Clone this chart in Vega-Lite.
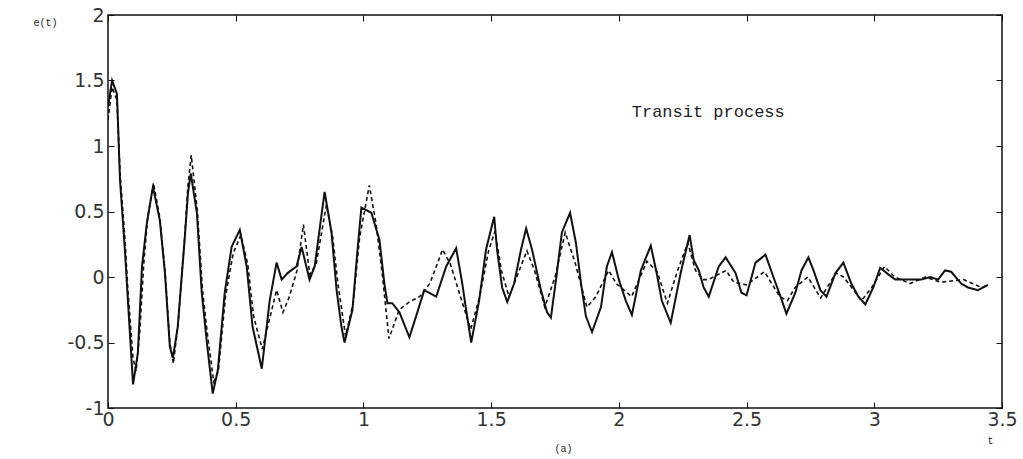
{
  "$schema": "https://vega.github.io/schema/vega-lite/v6.json",
  "autosize": "none",
  "width": 894,
  "height": 393,
  "padding": {"left": 108, "top": 15, "right": 21, "bottom": 51},
  "background": "white",
  "config": {
    "view": {"stroke": "#111", "strokeWidth": 1.5},
    "axis": {"grid": false, "labelFont": "DejaVu Sans", "labelFontSize": 19, "labelColor": "#333", "domain": false, "tickColor": "#111", "tickSize": -6, "tickWidth": 1, "labelOverlap": false, "labelFlush": false, "titleFont": "Liberation Mono", "titleFontWeight": "normal", "titleFontSize": 10, "titleColor": "#222", "labelExpr": "replace(format(datum.value, '~g'), '\u2212', '-')"}
  },
  "datasets": {
    "solid": [
      {"t":0.000,"e":1.30},{"t":0.016,"e":1.50},{"t":0.035,"e":1.40},{"t":0.047,"e":0.74},{"t":0.066,"e":0.21},{"t":0.078,"e":-0.18},{"t":0.098,"e":-0.82},{"t":0.117,"e":-0.58},{"t":0.133,"e":0.08},{"t":0.152,"e":0.41},{"t":0.176,"e":0.69},{"t":0.203,"e":0.43},{"t":0.223,"e":0.03},{"t":0.242,"e":-0.53},{"t":0.254,"e":-0.62},{"t":0.273,"e":-0.38},{"t":0.301,"e":0.31},{"t":0.313,"e":0.64},{"t":0.324,"e":0.79},{"t":0.348,"e":0.49},{"t":0.367,"e":-0.12},{"t":0.387,"e":-0.50},{"t":0.410,"e":-0.89},{"t":0.430,"e":-0.71},{"t":0.457,"e":-0.12},{"t":0.484,"e":0.23},{"t":0.516,"e":0.36},{"t":0.543,"e":0.08},{"t":0.566,"e":-0.38},{"t":0.602,"e":-0.70},{"t":0.633,"e":-0.18},{"t":0.660,"e":0.11},{"t":0.680,"e":-0.02},{"t":0.703,"e":0.03},{"t":0.738,"e":0.08},{"t":0.758,"e":0.23},{"t":0.789,"e":-0.02},{"t":0.809,"e":0.08},{"t":0.848,"e":0.65},{"t":0.875,"e":0.34},{"t":0.895,"e":-0.10},{"t":0.914,"e":-0.38},{"t":0.926,"e":-0.50},{"t":0.957,"e":-0.25},{"t":0.977,"e":0.21},{"t":0.992,"e":0.53},{"t":1.031,"e":0.49},{"t":1.063,"e":0.28},{"t":1.082,"e":-0.05},{"t":1.094,"e":-0.20},{"t":1.113,"e":-0.20},{"t":1.141,"e":-0.27},{"t":1.180,"e":-0.46},{"t":1.211,"e":-0.27},{"t":1.238,"e":-0.10},{"t":1.285,"e":-0.15},{"t":1.324,"e":0.08},{"t":1.363,"e":0.22},{"t":1.387,"e":-0.05},{"t":1.402,"e":-0.25},{"t":1.422,"e":-0.50},{"t":1.453,"e":-0.18},{"t":1.480,"e":0.21},{"t":1.512,"e":0.46},{"t":1.523,"e":0.21},{"t":1.543,"e":-0.08},{"t":1.563,"e":-0.19},{"t":1.590,"e":-0.05},{"t":1.617,"e":0.21},{"t":1.637,"e":0.37},{"t":1.660,"e":0.21},{"t":1.695,"e":-0.10},{"t":1.719,"e":-0.27},{"t":1.734,"e":-0.31},{"t":1.754,"e":-0.02},{"t":1.777,"e":0.34},{"t":1.809,"e":0.49},{"t":1.832,"e":0.26},{"t":1.852,"e":-0.05},{"t":1.871,"e":-0.30},{"t":1.895,"e":-0.42},{"t":1.930,"e":-0.23},{"t":1.953,"e":0.08},{"t":1.973,"e":0.19},{"t":2.000,"e":-0.02},{"t":2.027,"e":-0.18},{"t":2.051,"e":-0.29},{"t":2.086,"e":0.05},{"t":2.125,"e":0.24},{"t":2.148,"e":0.03},{"t":2.168,"e":-0.18},{"t":2.203,"e":-0.35},{"t":2.242,"e":0.03},{"t":2.277,"e":0.32},{"t":2.293,"e":0.13},{"t":2.313,"e":0.05},{"t":2.332,"e":-0.08},{"t":2.352,"e":-0.15},{"t":2.391,"e":0.08},{"t":2.418,"e":0.15},{"t":2.457,"e":0.03},{"t":2.480,"e":-0.12},{"t":2.500,"e":-0.14},{"t":2.535,"e":0.11},{"t":2.574,"e":0.17},{"t":2.605,"e":0.00},{"t":2.633,"e":-0.15},{"t":2.656,"e":-0.28},{"t":2.691,"e":-0.12},{"t":2.715,"e":0.05},{"t":2.742,"e":0.15},{"t":2.762,"e":0.05},{"t":2.789,"e":-0.10},{"t":2.813,"e":-0.15},{"t":2.848,"e":0.03},{"t":2.879,"e":0.11},{"t":2.910,"e":-0.05},{"t":2.938,"e":-0.15},{"t":2.965,"e":-0.21},{"t":2.996,"e":-0.08},{"t":3.023,"e":0.07},{"t":3.055,"e":0.02},{"t":3.082,"e":-0.02},{"t":3.133,"e":-0.02},{"t":3.184,"e":-0.02},{"t":3.219,"e":0.00},{"t":3.250,"e":-0.02},{"t":3.277,"e":0.05},{"t":3.301,"e":0.04},{"t":3.340,"e":-0.05},{"t":3.367,"e":-0.08},{"t":3.406,"e":-0.10},{"t":3.445,"e":-0.06}
    ],
    "dashed": [
      {"t":0.000,"e":1.20},{"t":0.016,"e":1.45},{"t":0.035,"e":1.35},{"t":0.047,"e":0.80},{"t":0.066,"e":0.30},{"t":0.078,"e":-0.10},{"t":0.098,"e":-0.62},{"t":0.110,"e":-0.72},{"t":0.125,"e":-0.40},{"t":0.140,"e":0.10},{"t":0.155,"e":0.45},{"t":0.178,"e":0.72},{"t":0.203,"e":0.45},{"t":0.223,"e":0.05},{"t":0.242,"e":-0.50},{"t":0.256,"e":-0.66},{"t":0.275,"e":-0.35},{"t":0.300,"e":0.30},{"t":0.313,"e":0.70},{"t":0.326,"e":0.93},{"t":0.350,"e":0.50},{"t":0.370,"e":-0.10},{"t":0.390,"e":-0.45},{"t":0.414,"e":-0.80},{"t":0.432,"e":-0.72},{"t":0.460,"e":-0.15},{"t":0.490,"e":0.18},{"t":0.520,"e":0.32},{"t":0.547,"e":0.10},{"t":0.570,"e":-0.30},{"t":0.604,"e":-0.55},{"t":0.635,"e":-0.30},{"t":0.660,"e":-0.10},{"t":0.685,"e":-0.27},{"t":0.710,"e":-0.15},{"t":0.740,"e":0.05},{"t":0.765,"e":0.40},{"t":0.790,"e":0.02},{"t":0.815,"e":0.10},{"t":0.855,"e":0.55},{"t":0.880,"e":0.30},{"t":0.900,"e":-0.05},{"t":0.930,"e":-0.45},{"t":0.960,"e":-0.20},{"t":0.985,"e":0.30},{"t":1.023,"e":0.70},{"t":1.050,"e":0.40},{"t":1.075,"e":0.00},{"t":1.100,"e":-0.47},{"t":1.140,"e":-0.25},{"t":1.180,"e":-0.19},{"t":1.220,"e":-0.15},{"t":1.260,"e":-0.05},{"t":1.310,"e":0.21},{"t":1.340,"e":0.10},{"t":1.380,"e":-0.15},{"t":1.420,"e":-0.40},{"t":1.455,"e":-0.15},{"t":1.490,"e":0.20},{"t":1.515,"e":0.35},{"t":1.540,"e":0.05},{"t":1.570,"e":-0.15},{"t":1.600,"e":0.00},{"t":1.640,"e":0.20},{"t":1.670,"e":0.05},{"t":1.710,"e":-0.23},{"t":1.750,"e":0.00},{"t":1.790,"e":0.34},{"t":1.830,"e":0.10},{"t":1.875,"e":-0.23},{"t":1.910,"e":-0.15},{"t":1.960,"e":0.05},{"t":1.990,"e":-0.05},{"t":2.050,"e":-0.15},{"t":2.110,"e":0.12},{"t":2.150,"e":0.04},{"t":2.190,"e":-0.20},{"t":2.230,"e":0.05},{"t":2.270,"e":0.26},{"t":2.300,"e":0.05},{"t":2.330,"e":-0.02},{"t":2.350,"e":-0.02},{"t":2.420,"e":0.05},{"t":2.450,"e":-0.04},{"t":2.500,"e":-0.06},{"t":2.570,"e":0.04},{"t":2.630,"e":-0.15},{"t":2.660,"e":-0.18},{"t":2.690,"e":-0.08},{"t":2.740,"e":0.00},{"t":2.790,"e":-0.16},{"t":2.850,"e":0.03},{"t":2.880,"e":0.00},{"t":2.950,"e":-0.18},{"t":2.990,"e":-0.08},{"t":3.040,"e":0.08},{"t":3.080,"e":0.00},{"t":3.140,"e":-0.05},{"t":3.200,"e":0.00},{"t":3.260,"e":-0.04},{"t":3.350,"e":-0.02},{"t":3.420,"e":-0.08},{"t":3.445,"e":-0.06}
    ],
    "note": [{"label": "Transit process"}]
  },
  "resolve": {"axis": {"x": "independent", "y": "independent"}},
  "layer": [
    {
      "data": {"name": "solid"},
      "mark": {"type": "line", "color": "#111", "strokeWidth": 2, "clip": true},
      "encoding": {
        "x": {"field": "t", "type": "quantitative", "scale": {"domain": [0, 3.5], "nice": false, "zero": false},
          "axis": {"orient": "bottom", "values": [0,0.5,1,1.5,2,2.5,3,3.5], "labelPadding": 8, "title": "(a)", "titleX": 455, "titleY": 40, "titleAlign": "center", "titleBaseline": "middle", "titleAnchor": null}},
        "y": {"field": "e", "type": "quantitative", "scale": {"domain": [-1, 2], "nice": false, "zero": false},
          "axis": {"orient": "left", "values": [-1,-0.5,0,0.5,1,1.5,2], "labelPadding": 10, "title": "e(t)", "titleAngle": 0, "titleX": -63, "titleY": 7, "titleAlign": "center", "titleBaseline": "middle", "titleAnchor": null}}
      }
    },
    {
      "data": {"name": "dashed"},
      "mark": {"type": "line", "color": "#111", "strokeWidth": 1.6, "strokeDash": [4, 3], "clip": true},
      "encoding": {
        "x": {"field": "t", "type": "quantitative",
          "axis": {"orient": "top", "values": [0,0.5,1,1.5,2,2.5,3,3.5], "labels": false, "title": "t", "titleX": 882, "titleY": 425, "titleAlign": "center", "titleBaseline": "middle", "titleAnchor": null}},
        "y": {"field": "e", "type": "quantitative",
          "axis": {"orient": "right", "values": [-1,-0.5,0,0.5,1,1.5,2], "labels": false, "title": null}}
      }
    },
    {
      "data": {"name": "note"},
      "mark": {"type": "text", "font": "Liberation Mono", "fontSize": 17, "color": "#222", "align": "center", "baseline": "middle"},
      "encoding": {
        "x": {"datum": 2.35, "type": "quantitative", "axis": null},
        "y": {"datum": 1.26, "type": "quantitative", "axis": null},
        "text": {"field": "label", "type": "nominal"}
      }
    }
  ]
}
